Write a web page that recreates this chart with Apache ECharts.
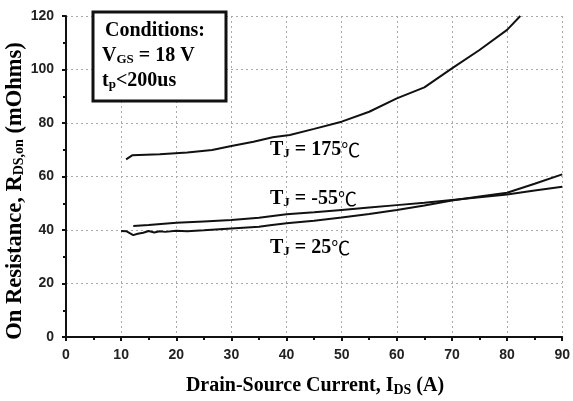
<!DOCTYPE html>
<html>
<head>
<meta charset="utf-8">
<script src="https://cdn.jsdelivr.net/npm/echarts@6/dist/echarts.min.js"></script>
<style>html,body{margin:0;padding:0;background:#fff}#c{width:573px;height:401px}</style>
</head>
<body>
<div id="c"></div>
<script>
// Data
var x175 = [10.9, 12, 17, 22, 26.5, 30, 34, 37.5, 40.6, 45, 50, 55, 60, 65, 70, 75, 80, 82.4];
var y175 = [66.4, 67.9, 68.3, 69.0, 69.9, 71.4, 73.0, 74.7, 75.5, 77.8, 80.5, 84.2, 89.2, 93.3, 100.4, 107.3, 114.8, 120];
var xM55 = [12.2, 15, 20, 25, 30, 35, 40, 45, 50, 55, 60, 65, 70, 75, 80, 85, 90];
var yM55 = [41.5, 41.9, 42.7, 43.2, 43.7, 44.6, 45.9, 46.6, 47.5, 48.4, 49.3, 50.2, 51.2, 52.2, 53.3, 54.8, 56.2];
var x25 = [10, 11, 12.2, 13, 14, 15, 16, 17, 18, 20, 22, 25, 30, 35, 37, 40, 45, 50, 55, 60, 65, 70, 75, 80, 85, 90];
var y25 = [39.6, 39.5, 38.1, 38.6, 39.0, 39.6, 39.1, 39.5, 39.3, 39.7, 39.5, 39.9, 40.6, 41.2, 41.8, 42.5, 43.5, 44.7, 46.0, 47.5, 49.2, 51.0, 52.5, 53.9, 57.3, 60.8];
var xTicks = [0, 10, 20, 30, 40, 50, 60, 70, 80, 90];
var yTicks = [0, 20, 40, 60, 80, 100, 120];

function zip(xs, ys) { return xs.map(function (x, i) { return [x, ys[i]]; }); }

var serif = '"Liberation Serif","Times New Roman",serif';
var sans = '"Liberation Sans",Arial,sans-serif';
var cjk = '"Noto Sans CJK SC",sans-serif';

var chart = echarts.init(document.getElementById('c'), null, {renderer: 'canvas'});

function lineSeries(name, data) {
  return {
    name: name, type: 'line', data: data, showSymbol: false, symbol: 'none',
    lineStyle: {color: '#111', width: 2}, silent: true, clip: true, animation: false
  };
}

function rich(size, sub) {
  return {
    t: {fontFamily: serif, fontWeight: 'bold', fontSize: size, color: '#111'},
    s: {fontFamily: serif, fontWeight: 'bold', fontSize: sub, color: '#111', padding: [Math.round(sub * 0.6), 0, 0, 0]},
    c: {fontFamily: cjk, fontWeight: 'normal', fontSize: size - 1, color: '#111'}
  };
}

function label(x, y, text, size, sub) {
  return {type: 'text', x: x, y: y, z: 11, style: {text: text, rich: rich(size, sub), align: 'left', verticalAlign: 'middle'}};
}

chart.setOption({
  animation: false,
  grid: {left: 66, right: 10, top: 16, bottom: 64, containLabel: false},
  xAxis: {
    type: 'value', min: 0, max: 90, interval: 10,
    axisLine: {show: true, lineStyle: {color: '#111', width: 2}},
    axisTick: {show: true, length: 4, lineStyle: {color: '#111', width: 2}},
    minorTick: {show: true, splitNumber: 2, length: 3, lineStyle: {color: '#111', width: 2}},
    axisLabel: {fontFamily: sans, fontWeight: 'bold', fontSize: 14, color: '#222', margin: 11,
      formatter: function (v) { return xTicks.indexOf(v) >= 0 ? String(v) : ''; }},
    splitLine: {show: true, lineStyle: {color: '#aaa', type: [2, 3], width: 1}}
  },
  yAxis: {
    type: 'value', min: 0, max: 120, interval: 20,
    axisLine: {show: true, lineStyle: {color: '#111', width: 2}},
    axisTick: {show: true, length: 4, lineStyle: {color: '#111', width: 2}},
    minorTick: {show: true, splitNumber: 2, length: 3, lineStyle: {color: '#111', width: 2}},
    axisLabel: {fontFamily: sans, fontWeight: 'bold', fontSize: 14, color: '#222', margin: 12,
      formatter: function (v) { return yTicks.indexOf(v) >= 0 ? String(v) : ''; }},
    splitLine: {show: true, lineStyle: {color: '#aaa', type: [2, 3], width: 1}}
  },
  series: [
    lineSeries('175', zip(x175, y175)),
    lineSeries('-55', zip(xM55, yM55)),
    lineSeries('25', zip(x25, y25))
  ],
  graphic: [
    {type: 'rect', shape: {x: 93, y: 12, width: 133, height: 89}, style: {fill: '#fff', stroke: '#111', lineWidth: 3}, z: 10},
    label(105, 31, '{t|Conditions:}', 20, 13),
    label(102, 56, '{t|V}{s|GS}{t| = 18 V}', 20, 13),
    label(102, 81, '{t|t}{s|p}{t|<200us}', 20, 13),
    label(270, 150, '{t|T}{s|J}{t| = 175}{c|\u2103}', 20, 13),
    label(270, 199, '{t|T}{s|J}{t| = -55}{c|\u2103}', 20, 13),
    label(270, 248, '{t|T}{s|J}{t| = 25}{c|\u2103}', 20, 13),
    {type: 'text', x: 315, y: 386, z: 11, style: {text: '{t|Drain-Source Current, I}{s|DS}{t| (A)}', rich: rich(20, 14), align: 'center', verticalAlign: 'middle'}},
    {type: 'text', x: 15, y: 191, z: 11, rotation: Math.PI / 2, style: {text: '{t|On Resistance, R}{s|DS,on}{t| (mOhms)}', rich: rich(22.5, 14), align: 'center', verticalAlign: 'middle'}}
  ]
});
</script>
</body>
</html>
